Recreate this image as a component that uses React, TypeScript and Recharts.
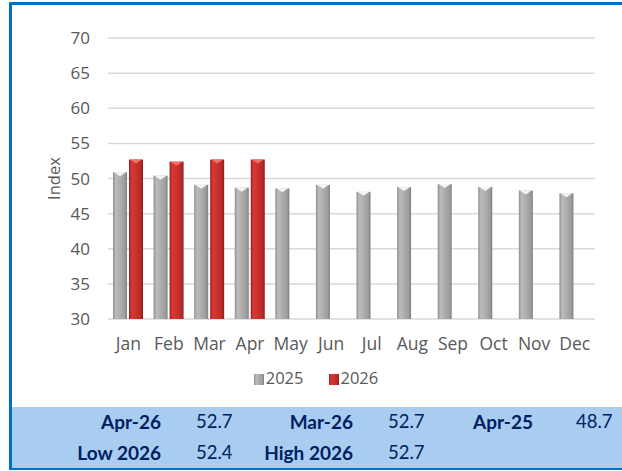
import { BarChart, Bar, XAxis, YAxis, CartesianGrid } from "recharts";

const months = ["Jan", "Feb", "Mar", "Apr", "May", "Jun", "Jul", "Aug", "Sep", "Oct", "Nov", "Dec"];
const values2025 = [50.9, 50.4, 49.1, 48.7, 48.6, 49.1, 48.1, 48.8, 49.2, 48.8, 48.3, 47.9];
const values2026: (number | null)[] = [52.7, 52.4, 52.7, 52.7, null, null, null, null, null, null, null, null];
const yTicks = [30, 35, 40, 45, 50, 55, 60, 65, 70];

const seriesNames = ["2025", "2026"];

const summaryRow1 = [
  { label: "Apr-26", value: "52.7" },
  { label: "Mar-26", value: "52.7" },
  { label: "Apr-25", value: "48.7" },
];
const summaryRow2 = [
  { label: "Low 2026", value: "52.4" },
  { label: "High 2026", value: "52.7" },
];

const data = months.map((m, i) => ({ month: m, y2025: values2025[i], y2026: values2026[i] }));

const axisFont = "'Open Sans', 'Noto Sans', sans-serif";
const tableFont = "Lato, 'Open Sans', sans-serif";

function CylinderBar(props: any) {
  const { x, y, width, height, fill, top } = props;
  if (height == null || height <= 0) return null;
  const w = width;
  const tip = Math.min(4, height);
  return (
    <g>
      <rect x={x} y={y} width={w} height={height} fill={fill} />
      <polygon
        points={`${x + 1},${y} ${x + w - 1},${y} ${x + w / 2},${y + tip}`}
        fill={top}
      />
    </g>
  );
}

function LegendSwatch({ grad }: { grad: string }) {
  return (
    <svg width={10} height={11} style={{ verticalAlign: "-1px", marginRight: 2 }}>
      <rect x={0} y={0} width={10} height={11} fill={`url(#${grad})`} />
    </svg>
  );
}

export default function App() {
  return (
    <div style={{ position: "absolute", left: 0, top: 0, width: 622, height: 471, background: "#fff", overflow: "hidden" }}>
      {/* frame */}
      <div
        style={{
          position: "absolute",
          left: 9,
          top: 2,
          width: 622,
          height: 468,
          borderLeft: "3px solid #0070C0",
          borderTop: "3px solid #0070C0",
          borderBottom: "2px solid #0070C0",
          boxSizing: "border-box",
        }}
      />
      <svg width={0} height={0} style={{ position: "absolute" }}>
        <defs>
          <linearGradient id="g2025" x1="0" y1="0" x2="1" y2="0">
            <stop offset="0%" stopColor="#8f8f8f" />
            <stop offset="20%" stopColor="#bcbcbc" />
            <stop offset="55%" stopColor="#ababab" />
            <stop offset="85%" stopColor="#9c9c9c" />
            <stop offset="100%" stopColor="#7c7c7c" />
          </linearGradient>
          <linearGradient id="g2026" x1="0" y1="0" x2="1" y2="0">
            <stop offset="0%" stopColor="#9e1f1f" />
            <stop offset="20%" stopColor="#d63a36" />
            <stop offset="55%" stopColor="#c9302c" />
            <stop offset="85%" stopColor="#b52a27" />
            <stop offset="100%" stopColor="#8e1c1c" />
          </linearGradient>
        </defs>
      </svg>
      <div style={{ position: "absolute", left: 12, top: 5 }}>
        <BarChart
          width={610}
          height={401}
          data={data}
          margin={{ top: 33, right: 27, left: 36, bottom: 57 }}
          barSize={14}
          barGap={2}
        >
          <CartesianGrid vertical={false} stroke="#d9d9d9" strokeWidth={1.5} />
          <XAxis
            dataKey="month"
            axisLine={false}
            tickLine={false}
            tickMargin={13}
            interval={0}
            tick={{ fill: "#595959", fontSize: 17.5, fontFamily: axisFont }}
          />
          <YAxis
            width={60}
            domain={[30, 70]}
            ticks={yTicks}
            axisLine={false}
            tickLine={false}
            tickMargin={12}
            tick={{ fill: "#595959", fontSize: 17, fontFamily: axisFont }}
            label={{
              value: "Index",
              angle: -90,
              position: "insideLeft",
              offset: 6,
              style: { textAnchor: "middle", fill: "#595959", fontSize: 16.5, fontFamily: axisFont },
            }}
          />
          <Bar
            dataKey="y2025"
            name={seriesNames[0]}
            fill="url(#g2025)"
            isAnimationActive={false}
            shape={(p: any) => <CylinderBar {...p} top="#f4f4f4" />}
          />
          <Bar
            dataKey="y2026"
            name={seriesNames[1]}
            fill="url(#g2026)"
            isAnimationActive={false}
            shape={(p: any) => <CylinderBar {...p} top="#f07070" />}
          />
        </BarChart>
      </div>
      {/* legend */}
      <div
        style={{
          position: "absolute",
          left: 0,
          width: 632,
          top: 366,
          textAlign: "center",
          fontFamily: axisFont,
          fontSize: 16.5,
          color: "#595959",
        }}
      >
        <span style={{ marginRight: 25 }}>
          <LegendSwatch grad="g2025" />
          {seriesNames[0]}
        </span>
        <span>
          <LegendSwatch grad="g2026" />
          {seriesNames[1]}
        </span>
      </div>
      {/* summary table */}
      <div
        style={{
          position: "absolute",
          left: 12,
          top: 407,
          width: 610,
          height: 61,
          background: "#A9CDF1",
          fontFamily: tableFont,
          color: "#002060",
        }}
      >
        {[summaryRow1, summaryRow2].map((row, ri) => (
          <div key={ri} style={{ position: "absolute", top: ri === 0 ? 3 : 34, left: 0, width: 610, height: 24 }}>
            {row.map((cell, ci) => {
              const labelRight = [149, 341, 521][ci];
              const valueLeft = [184, 376, 564][ci];
              return (
                <div key={ci}>
                  <span style={{ position: "absolute", right: 610 - labelRight, fontWeight: 700, fontSize: 19, whiteSpace: "nowrap" }}>
                    {cell.label}
                  </span>
                  <span style={{ position: "absolute", left: valueLeft, fontSize: 18.5, whiteSpace: "nowrap" }}>{cell.value}</span>
                </div>
              );
            })}
          </div>
        ))}
      </div>
    </div>
  );
}
